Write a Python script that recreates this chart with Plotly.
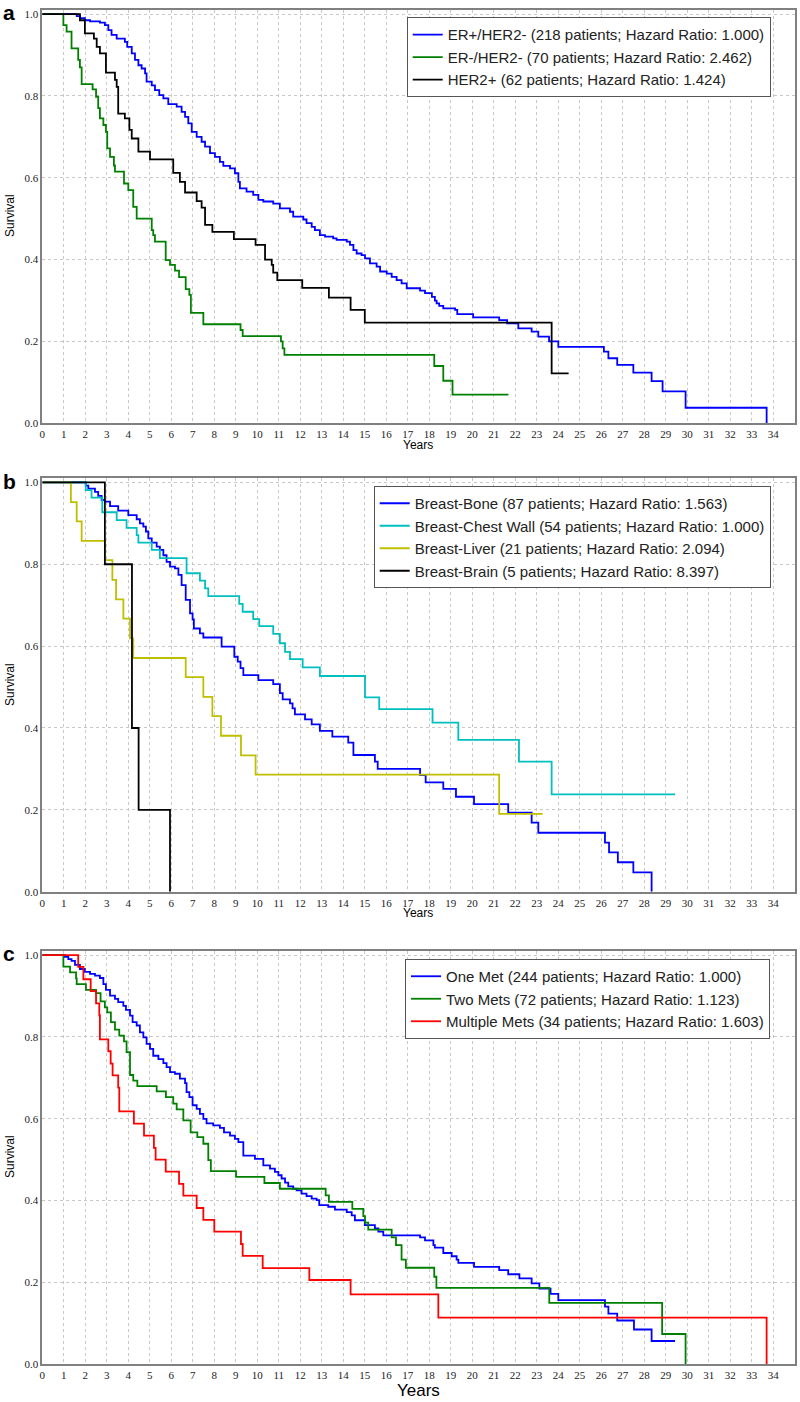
import plotly.graph_objects as go

# ---------------- data ----------------
x_ticks = list(range(0, 35))
y_ticks = [0.0, 0.2, 0.4, 0.6, 0.8, 1.0]
y_tick_labels = ["0.0", "0.2", "0.4", "0.6", "0.8", "1.0"]

# Panel a
a_names = ["ER+/HER2- (218 patients; Hazard Ratio: 1.000)",
           "ER-/HER2- (70 patients; Hazard Ratio: 2.462)",
           "HER2+ (62 patients; Hazard Ratio: 1.424)"]
a1_t = [1.60, 1.75, 1.98, 2.22, 2.68, 2.91, 3.07, 3.22, 3.46, 3.84, 3.95, 4.16, 4.31, 4.47, 4.62, 4.78, 4.85,
        5.09, 5.24, 5.44, 5.63, 5.86, 6.25, 6.48, 6.64, 6.79, 6.95, 7.18, 7.41, 7.57, 7.80, 8.03, 8.26, 8.42,
        8.73, 8.96, 9.12, 9.19, 9.50, 9.81, 10.05, 10.28, 10.74, 11.05, 11.52, 11.67, 12.14, 12.29, 12.53, 12.68,
        12.91, 13.15, 13.53, 13.69, 14.16, 14.31, 14.47, 14.62, 14.85, 15.01, 15.24, 15.55, 15.71, 16.02, 16.25,
        16.48, 16.71, 16.95, 17.57, 17.80, 18.12, 18.26, 18.34, 18.46, 18.65, 19.20, 19.30, 20.04, 21.25, 21.62,
        22.14, 22.76, 23.07, 23.57, 24.00, 26.12, 26.33, 26.74, 27.49, 28.34, 28.85, 29.92, 33.69]
a1_s = [0.995, 0.990, 0.985, 0.982, 0.979, 0.973, 0.961, 0.949, 0.940, 0.932, 0.920, 0.904, 0.888, 0.875, 0.867,
        0.855, 0.835, 0.826, 0.814, 0.802, 0.794, 0.780, 0.774, 0.761, 0.749, 0.733, 0.712, 0.700, 0.688, 0.676,
        0.660, 0.651, 0.639, 0.629, 0.623, 0.611, 0.590, 0.574, 0.566, 0.558, 0.546, 0.542, 0.537, 0.525, 0.517,
        0.505, 0.498, 0.489, 0.480, 0.472, 0.460, 0.456, 0.452, 0.448, 0.444, 0.436, 0.423, 0.415, 0.411, 0.403,
        0.391, 0.383, 0.371, 0.366, 0.358, 0.350, 0.342, 0.330, 0.324, 0.318, 0.309, 0.300, 0.293, 0.287, 0.281,
        0.277, 0.267, 0.259, 0.252, 0.244, 0.232, 0.224, 0.212, 0.200, 0.187, 0.175, 0.159, 0.143, 0.124, 0.103,
        0.078, 0.038, 0.0]
a1_end = 33.69
a2_t = [0.98, 1.13, 1.36, 1.67, 1.75, 1.83, 2.34, 2.50, 2.60, 2.68, 2.84, 2.96, 3.02, 3.15, 3.33, 3.38, 3.80,
        4.00, 4.23, 4.39, 5.09, 5.16, 5.24, 5.74, 5.94, 6.17, 6.36, 6.67, 6.84, 6.91, 7.49, 9.22, 9.32, 11.10,
        11.18, 11.26, 18.23, 18.65, 19.08]
a2_s = [0.973, 0.957, 0.916, 0.888, 0.870, 0.829, 0.816, 0.798, 0.770, 0.745, 0.729, 0.712, 0.672, 0.651, 0.630,
        0.615, 0.586, 0.570, 0.529, 0.500, 0.472, 0.460, 0.444, 0.399, 0.387, 0.373, 0.357, 0.328, 0.314, 0.270,
        0.242, 0.228, 0.213, 0.200, 0.183, 0.167, 0.140, 0.104, 0.070]
a2_end = 21.68
a3_t = [1.75, 1.98, 2.40, 2.53, 2.68, 2.96, 3.38, 3.46, 3.53, 3.84, 4.05, 4.16, 4.47, 5.01, 6.09, 6.40, 6.64,
        7.18, 7.41, 7.57, 7.91, 8.91, 9.92, 10.36, 10.67, 10.74, 10.93, 12.09, 13.33, 14.34, 15.00, 23.69]
a3_s = [0.985, 0.953, 0.940, 0.920, 0.904, 0.857, 0.839, 0.822, 0.757, 0.745, 0.717, 0.696, 0.664, 0.645, 0.612,
        0.590, 0.564, 0.543, 0.527, 0.485, 0.468, 0.450, 0.436, 0.400, 0.387, 0.368, 0.350, 0.331, 0.307, 0.277,
        0.246, 0.122]
a3_end = 24.48

# Panel b
b_names = ["Breast-Bone (87 patients; Hazard Ratio: 1.563)",
           "Breast-Chest Wall (54 patients; Hazard Ratio: 1.000)",
           "Breast-Liver (21 patients; Hazard Ratio: 2.094)",
           "Breast-Brain (5 patients; Hazard Ratio: 8.397)"]
b1_t = [2.02, 2.14, 2.45, 2.60, 2.76, 2.91, 3.15, 3.53, 4.00, 4.39, 4.54, 4.70, 4.82, 4.93, 5.09, 5.32, 5.47,
        5.63, 5.78, 5.94, 6.17, 6.33, 6.48, 6.67, 6.87, 6.99, 7.05, 7.33, 7.49, 8.34, 8.93, 9.09, 9.22, 9.35,
        10.05, 10.74, 11.05, 11.18, 11.52, 11.64, 11.75, 12.22, 12.53, 12.91, 13.49, 14.23, 14.47, 15.47, 15.60,
        17.57, 17.83, 18.65, 19.24, 20.08, 21.67, 22.76, 23.07, 26.17, 26.36, 26.77, 27.49, 28.34]
b1_s = [0.992, 0.985, 0.977, 0.967, 0.957, 0.953, 0.942, 0.931, 0.920, 0.910, 0.900, 0.892, 0.880, 0.863, 0.853,
        0.843, 0.835, 0.822, 0.806, 0.794, 0.790, 0.774, 0.749, 0.713, 0.680, 0.665, 0.643, 0.631, 0.621, 0.599,
        0.574, 0.562, 0.546, 0.529, 0.517, 0.507, 0.485, 0.470, 0.460, 0.448, 0.433, 0.421, 0.409, 0.393, 0.379,
        0.364, 0.334, 0.318, 0.300, 0.285, 0.267, 0.251, 0.232, 0.214, 0.193, 0.169, 0.144, 0.120, 0.096, 0.072,
        0.047, 0.0]
b1_end = 28.34
b2_t = [2.02, 2.29, 2.79, 3.46, 3.92, 4.39, 4.47, 5.09, 5.47, 6.71, 7.33, 7.57, 7.72, 9.16, 9.32, 9.81, 10.09,
        10.74, 11.05, 11.29, 11.52, 12.11, 12.91, 15.01, 15.67, 18.15, 19.35, 22.17, 23.69]
b2_s = [0.981, 0.963, 0.927, 0.908, 0.889, 0.871, 0.853, 0.835, 0.815, 0.778, 0.760, 0.741, 0.722, 0.703, 0.684,
        0.666, 0.649, 0.630, 0.607, 0.586, 0.568, 0.548, 0.527, 0.475, 0.446, 0.413, 0.371, 0.318, 0.238]
b2_end = 29.43
b3_t = [1.33, 1.60, 1.83, 2.91, 3.26, 3.43, 3.77, 4.08, 4.23, 6.67, 7.49, 7.91, 8.31, 9.24, 9.92, 21.25]
b3_s = [0.952, 0.905, 0.857, 0.810, 0.762, 0.714, 0.667, 0.619, 0.571, 0.524, 0.476, 0.429, 0.381, 0.333,
        0.286, 0.190]
b3_end = 23.27
b4_t = [2.91, 4.17, 4.48, 5.94]
b4_s = [0.8, 0.4, 0.2, 0.0]
b4_end = 5.94

# Panel c
c_names = ["One Met (244 patients; Hazard Ratio: 1.000)",
           "Two Mets (72 patients; Hazard Ratio: 1.123)",
           "Multiple Mets (34 patients; Hazard Ratio: 1.603)"]
c1_t = [1.05, 1.21, 1.36, 1.52, 1.75, 1.98, 2.22, 2.45, 2.68, 2.84, 2.96, 3.15, 3.38, 3.53, 3.77, 3.89, 4.08,
        4.20, 4.39, 4.54, 4.70, 4.85, 5.01, 5.16, 5.40, 5.63, 5.78, 5.94, 6.17, 6.40, 6.64, 6.71, 6.84, 6.99,
        7.18, 7.33, 7.49, 7.64, 7.95, 8.26, 8.45, 8.73, 8.96, 9.12, 9.35, 9.89, 10.28, 10.59, 10.82, 10.98,
        11.13, 11.29, 11.44, 11.67, 11.83, 12.06, 12.29, 12.53, 12.76, 12.88, 13.30, 13.61, 14.16, 14.39, 14.54,
        15.00, 15.47, 15.63, 15.86, 17.57, 17.80, 18.19, 18.26, 18.65, 19.04, 19.27, 19.35, 20.08, 21.25, 21.67,
        22.19, 22.76, 23.12, 23.64, 24.00, 26.17, 26.33, 26.74, 27.52, 28.34]
c1_s = [0.996, 0.990, 0.986, 0.976, 0.966, 0.959, 0.954, 0.950, 0.944, 0.929, 0.915, 0.901, 0.893, 0.885, 0.876,
        0.866, 0.852, 0.836, 0.828, 0.811, 0.799, 0.783, 0.771, 0.754, 0.746, 0.736, 0.726, 0.714, 0.710, 0.698,
        0.687, 0.665, 0.653, 0.633, 0.624, 0.612, 0.600, 0.589, 0.584, 0.578, 0.567, 0.559, 0.551, 0.543, 0.510,
        0.502, 0.486, 0.478, 0.470, 0.462, 0.454, 0.444, 0.435, 0.429, 0.425, 0.417, 0.411, 0.405, 0.401, 0.389,
        0.385, 0.378, 0.372, 0.364, 0.352, 0.340, 0.332, 0.324, 0.315, 0.310, 0.303, 0.291, 0.285, 0.272, 0.264,
        0.256, 0.248, 0.238, 0.230, 0.220, 0.210, 0.198, 0.185, 0.172, 0.157, 0.141, 0.124, 0.107, 0.085, 0.057]
c1_end = 29.43
c2_t = [0.98, 1.29, 1.57, 1.60, 2.03, 2.50, 2.71, 2.91, 3.02, 3.19, 3.38, 3.58, 3.80, 3.92, 4.08, 4.23, 4.42,
        5.32, 5.75, 6.09, 6.25, 6.56, 6.90, 7.21, 7.49, 7.72, 7.84, 9.01, 10.33, 11.05, 13.18, 13.33, 14.42,
        14.93, 15.01, 15.16, 16.25, 16.45, 16.71, 16.91, 18.23, 18.33, 23.58, 28.83, 29.92]
c2_s = [0.972, 0.958, 0.943, 0.929, 0.915, 0.907, 0.887, 0.872, 0.860, 0.836, 0.818, 0.803, 0.789, 0.763, 0.707,
        0.693, 0.680, 0.667, 0.653, 0.637, 0.623, 0.596, 0.567, 0.555, 0.539, 0.499, 0.472, 0.458, 0.443, 0.429,
        0.413, 0.397, 0.380, 0.362, 0.346, 0.329, 0.310, 0.291, 0.256, 0.236, 0.214, 0.187, 0.150, 0.074, 0.0]
c2_end = 29.92
c3_t = [1.67, 1.91, 2.25, 2.50, 2.65, 2.68, 3.07, 3.18, 3.27, 3.53, 3.58, 4.26, 4.73, 5.19, 5.27, 5.74, 6.36,
        6.56, 7.18, 7.49, 8.00, 9.24, 9.32, 10.25, 12.42, 14.34, 18.42, 33.69]
c3_s = [0.971, 0.941, 0.912, 0.882, 0.853, 0.794, 0.765, 0.735, 0.706, 0.676, 0.618, 0.588, 0.559, 0.529, 0.500,
        0.471, 0.441, 0.412, 0.382, 0.353, 0.324, 0.294, 0.265, 0.235, 0.206, 0.171, 0.114, 0.0]
c3_end = 33.69

# ---------------- figure ----------------
W, H = 800, 1402


def fy(px):
    return 1 - px / H


def step(t, s, end):
    xs = [0.0] + list(t)
    ys = [1.0] + list(s)
    if end > xs[-1]:
        xs.append(end)
        ys.append(ys[-1])
    return xs, ys


fig = go.Figure()

panels = [
    ("", "legend", [(a1_t, a1_s, a1_end, a_names[0], "#0000ff"),
                    (a2_t, a2_s, a2_end, a_names[1], "#008000"),
                    (a3_t, a3_s, a3_end, a_names[2], "#000000")]),
    ("2", "legend2", [(b1_t, b1_s, b1_end, b_names[0], "#0000ff"),
                      (b2_t, b2_s, b2_end, b_names[1], "#00bfbf"),
                      (b3_t, b3_s, b3_end, b_names[2], "#bfbf00"),
                      (b4_t, b4_s, b4_end, b_names[3], "#000000")]),
    ("3", "legend3", [(c1_t, c1_s, c1_end, c_names[0], "#0000ff"),
                      (c2_t, c2_s, c2_end, c_names[1], "#008000"),
                      (c3_t, c3_s, c3_end, c_names[2], "#ff0000")]),
]

for suffix, leg, series in panels:
    for t, s, end, name, col in series:
        xs, ys = step(t, s, end)
        fig.add_trace(go.Scatter(x=xs, y=ys, mode="lines", line=dict(color=col, width=1.8, shape="hv"),
                                 name=name, xaxis="x" + suffix, yaxis="y" + suffix, legend=leg))

xdom = [42.3 / W, 794.8 / W]
ydoms = [[fy(423.3), fy(10)], [fy(891.7), fy(478.3)], [fy(1364.3), fy(951)]]

axcommon = dict(showgrid=True, gridcolor="#c8c8c8", griddash="dot", gridwidth=1,
                showline=True, mirror=True, linecolor="#808080", linewidth=1.5,
                zeroline=False, ticks="", automargin=False, fixedrange=True,
                tickfont=dict(family="Liberation Serif", size=11, color="#222222"))

layout = dict(width=W, height=H, template="none", paper_bgcolor="white", plot_bgcolor="white",
              margin=dict(l=0, r=0, t=0, b=0), showlegend=True)

for i, suffix in enumerate(["", "2", "3"]):
    layout["xaxis" + suffix] = dict(axcommon, domain=xdom, range=[0, 35], tickmode="array",
                                    tickvals=x_ticks, ticktext=[str(v) for v in x_ticks],
                                    anchor="y" + suffix)
    layout["yaxis" + suffix] = dict(axcommon, domain=ydoms[i], range=[0, 1.01], tickmode="array",
                                    tickvals=y_ticks, ticktext=y_tick_labels, anchor="x" + suffix)

legfont = dict(family="Liberation Sans", size=15, color="#222222")
legcommon = dict(bgcolor="white", bordercolor="#555555", borderwidth=1, font=legfont,
                 xanchor="left", yanchor="top", xref="paper", yref="paper")
layout["legend"] = dict(legcommon, x=406.7 / W, y=fy(17.3))
layout["legend2"] = dict(legcommon, x=373.7 / W, y=fy(486))
layout["legend3"] = dict(legcommon, x=405 / W, y=fy(959))

ann = []
for lab, ypx in [("a", -1), ("b", 468), ("c", 940)]:
    ann.append(dict(text="<b>" + lab + "</b>", x=1 / W, y=fy(ypx), xref="paper", yref="paper",
                    xanchor="left", yanchor="top", showarrow=False,
                    font=dict(family="Liberation Sans", size=21, color="black")))
for ypx in [216, 685, 1157]:
    ann.append(dict(text="Survival", x=10 / W, y=fy(ypx), xref="paper", yref="paper",
                    xanchor="center", yanchor="middle", textangle=-90, showarrow=False,
                    font=dict(family="Liberation Sans", size=12, color="black")))
for ypx, sz in [(445, 12), (913, 12), (1390, 17)]:
    ann.append(dict(text="Years", x=418.5 / W, y=fy(ypx), xref="paper", yref="paper",
                    xanchor="center", yanchor="middle", showarrow=False,
                    font=dict(family="Liberation Sans", size=sz, color="black")))
layout["annotations"] = ann

fig.update_layout(**layout)
fig.write_html("out.html", config={"displayModeBar": False, "staticPlot": False},
               post_script="document.body.style.margin='0px';document.body.style.overflow='hidden';")
